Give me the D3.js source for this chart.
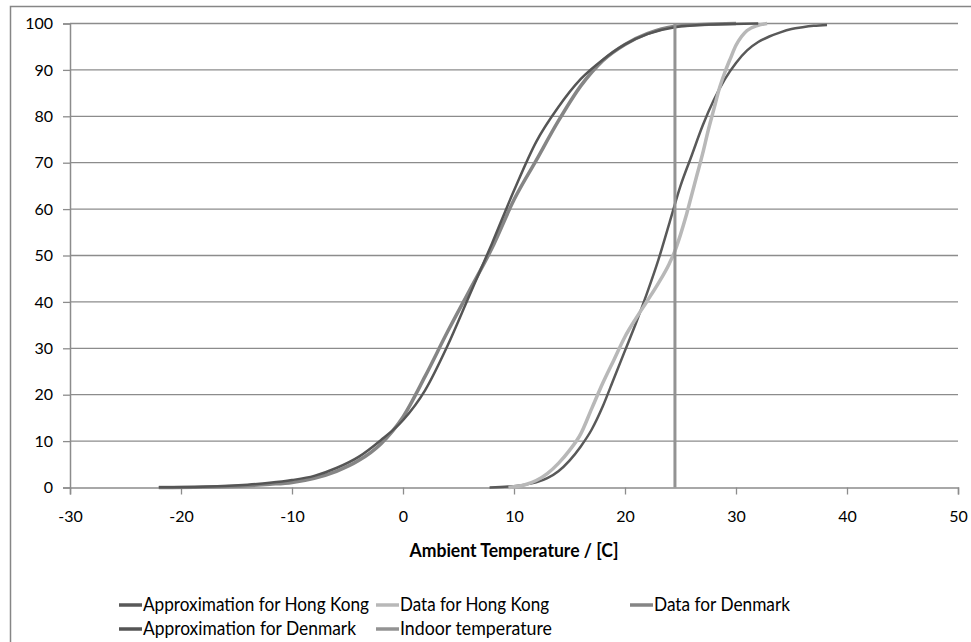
<!DOCTYPE html>
<html>
<head>
    <meta charset="UTF-8">
    <title>Chart</title>
    <style>
        body { margin: 0; background-color: #FFFFFF; }
        svg { display: block; background-color: #FFFFFF; }
        .tick-label { font-family: Lato, "Open Sans", sans-serif; font-size: 16px; fill: #000; }
        .legend-label { font-family: Lato, "Open Sans", sans-serif; font-size: 18.5px; fill: #000; }
        .axis-title { font-family: Lato, "Open Sans", sans-serif; font-size: 18.5px; font-weight: bold; fill: #000; }
    </style>
</head>
<body>
    <div id="graph-container"></div>
    <script src="https://cdn.jsdelivr.net/npm/d3@7"></script>
    <script>
        // ticks
        let xTicks = [-30, -20, -10, 0, 10, 20, 30, 40, 50];
        let yTicks = [0, 10, 20, 30, 40, 50, 60, 70, 80, 90, 100];

        // Approximation for Hong Kong
        let hkApproxT = [7.8, 9.5, 11, 12, 13, 14, 15, 16, 17, 18, 19, 20, 21, 22, 23, 24, 25, 26, 27, 28, 29, 30, 31, 32, 33, 34, 35, 36, 37, 38.2];
        let hkApproxP = [0, 0.2, 0.6, 1.1, 2, 3.5, 5.8, 8.8, 12.5, 17.5, 23.5, 29.5, 35.5, 42, 49, 57, 65, 71.5, 78, 83.5, 88, 91.5, 94.2, 96, 97.2, 98.1, 98.8, 99.2, 99.5, 99.7];

        // Data for Hong Kong
        let hkDataT = [9.5, 11, 12, 13, 14, 15, 16, 17, 18, 19, 20, 21, 22, 23, 24, 24.5, 25, 25.5, 26, 26.5, 27, 27.5, 28, 28.5, 29, 29.5, 30, 30.5, 31, 32, 32.8];
        let hkDataP = [0, 0.6, 1.5, 3, 5.2, 8, 11.5, 17, 22.5, 27.5, 32.5, 36.5, 40.2, 44, 48.3, 51, 54.5, 58.5, 63, 67.5, 72, 77, 81.5, 86, 89.5, 92.5, 95.3, 97.2, 98.5, 99.6, 100];

        // Data for Denmark
        let dkDataT = [-22, -18, -14, -12, -10, -8, -6, -4, -2, 0, 2, 4, 6, 8, 10, 12, 14, 16, 18, 20, 22, 24.5, 27, 30];
        let dkDataP = [0, 0.1, 0.4, 0.7, 1.1, 2.0, 3.5, 5.8, 9.4, 15.2, 24, 33.5, 42.5, 51.5, 62, 70.5, 79, 86.5, 92, 95.5, 97.8, 99.4, 99.8, 100];

        // Approximation for Denmark
        let dkApproxT = [-22, -18, -14, -12, -10, -8, -6, -4, -2, 0, 2, 4, 6, 8, 10, 12, 14, 16, 18, 20, 22, 24.5, 28, 32];
        let dkApproxP = [0.05, 0.15, 0.6, 1.0, 1.6, 2.5, 4.2, 6.6, 10.2, 14.5, 21, 30.5, 41.5, 52.5, 64, 74.5, 82, 88, 92.2, 95.5, 97.7, 99.2, 99.8, 100];

        // Indoor temperature
        let indoorT = [24.5, 24.5];
        let indoorP = [0, 100];

        let series = [
            { name: "Approximation for Hong Kong", t: hkApproxT, p: hkApproxP, color: "#595959", w: 2.5 },
            { name: "Data for Hong Kong", t: hkDataT, p: hkDataP, color: "#b8b8b8", w: 3.5 },
            { name: "Data for Denmark", t: dkDataT, p: dkDataP, color: "#858585", w: 3.5 },
            { name: "Approximation for Denmark", t: dkApproxT, p: dkApproxP, color: "#555555", w: 2.5 },
            { name: "Indoor temperature", t: indoorT, p: indoorP, color: "#939393", w: 3 }
        ];

        let width = 971, height = 642;
        let plot = { left: 70, right: 958, top: 23.5, bottom: 487.5 };

        let x = d3.scaleLinear().domain([-30, 50]).range([plot.left, plot.right]);
        let y = d3.scaleLinear().domain([0, 100]).range([plot.bottom, plot.top]);

        let svg = d3.select("#graph-container").append("svg")
            .attr("width", width)
            .attr("height", height);

        // outer chart border (runs off the right and bottom edges)
        svg.append("rect")
            .attr("x", 10.5).attr("y", 6.5)
            .attr("width", 990).attr("height", 660)
            .attr("fill", "none")
            .attr("stroke", "#868686")
            .attr("stroke-width", 1.5);

        // gridlines
        svg.append("g").selectAll("line")
            .data(yTicks.filter(d => d > 0))
            .enter().append("line")
            .attr("x1", plot.left).attr("x2", plot.right)
            .attr("y1", d => y(d)).attr("y2", d => y(d))
            .attr("stroke", "#8c8c8c")
            .attr("stroke-width", 1.3);

        // axes
        let yAxis = svg.append("g")
            .attr("transform", "translate(" + plot.left + ",0)")
            .call(d3.axisLeft(y).tickValues(yTicks).tickFormat(d => String(d)).tickSize(7).tickPadding(10));
        let xAxis = svg.append("g")
            .attr("transform", "translate(0," + plot.bottom + ")")
            .call(d3.axisBottom(x).tickValues(xTicks).tickFormat(d => String(d)).tickSize(7).tickPadding(16));

        [xAxis, yAxis].forEach(g => {
            g.attr("font-family", null).attr("font-size", null);
            g.select(".domain").attr("stroke", "#8c8c8c").attr("stroke-width", 1.5);
            g.selectAll(".tick line").attr("stroke", "#8c8c8c").attr("stroke-width", 1.3);
            g.selectAll(".tick text").attr("class", "tick-label");
        });

        // the series lines
        let curve = d3.line()
            .x(d => x(d[0]))
            .y(d => y(d[1]))
            .curve(d3.curveMonotoneX);
        let straight = d3.line()
            .x(d => x(d[0]))
            .y(d => y(d[1]));

        series.forEach(s => {
            let pts = s.t.map((t, i) => [t, s.p[i]]);
            svg.append("path")
                .datum(pts)
                .attr("fill", "none")
                .attr("stroke", s.color)
                .attr("stroke-width", s.w)
                .attr("stroke-linejoin", "round")
                .attr("d", s.t[0] === s.t[1] ? straight : curve);
        });

        // axis title
        svg.append("text")
            .attr("class", "axis-title")
            .attr("x", 514).attr("y", 557)
            .attr("text-anchor", "middle")
            .attr("textLength", 209)
            .attr("lengthAdjust", "spacingAndGlyphs")
            .text("Ambient Temperature / [C]");

        // legend
        let legendPos = [
            { x: 119, y: 605, len: 226 },
            { x: 376, y: 605, len: 149 },
            { x: 630, y: 605, len: 136 },
            { x: 119, y: 629, len: 213 },
            { x: 376, y: 629, len: 152 }
        ];
        let legend = svg.append("g").selectAll("g")
            .data(series)
            .enter().append("g")
            .attr("transform", (d, i) => "translate(" + legendPos[i].x + "," + legendPos[i].y + ")");
        legend.append("line")
            .attr("x1", 0).attr("x2", 23)
            .attr("stroke", d => d.color)
            .attr("stroke-width", 3.5);
        legend.append("text")
            .attr("class", "legend-label")
            .attr("x", 24).attr("dy", "0.35em")
            .attr("textLength", (d, i) => legendPos[i].len)
            .attr("lengthAdjust", "spacingAndGlyphs")
            .text(d => d.name);
    </script>
</body>
</html>
